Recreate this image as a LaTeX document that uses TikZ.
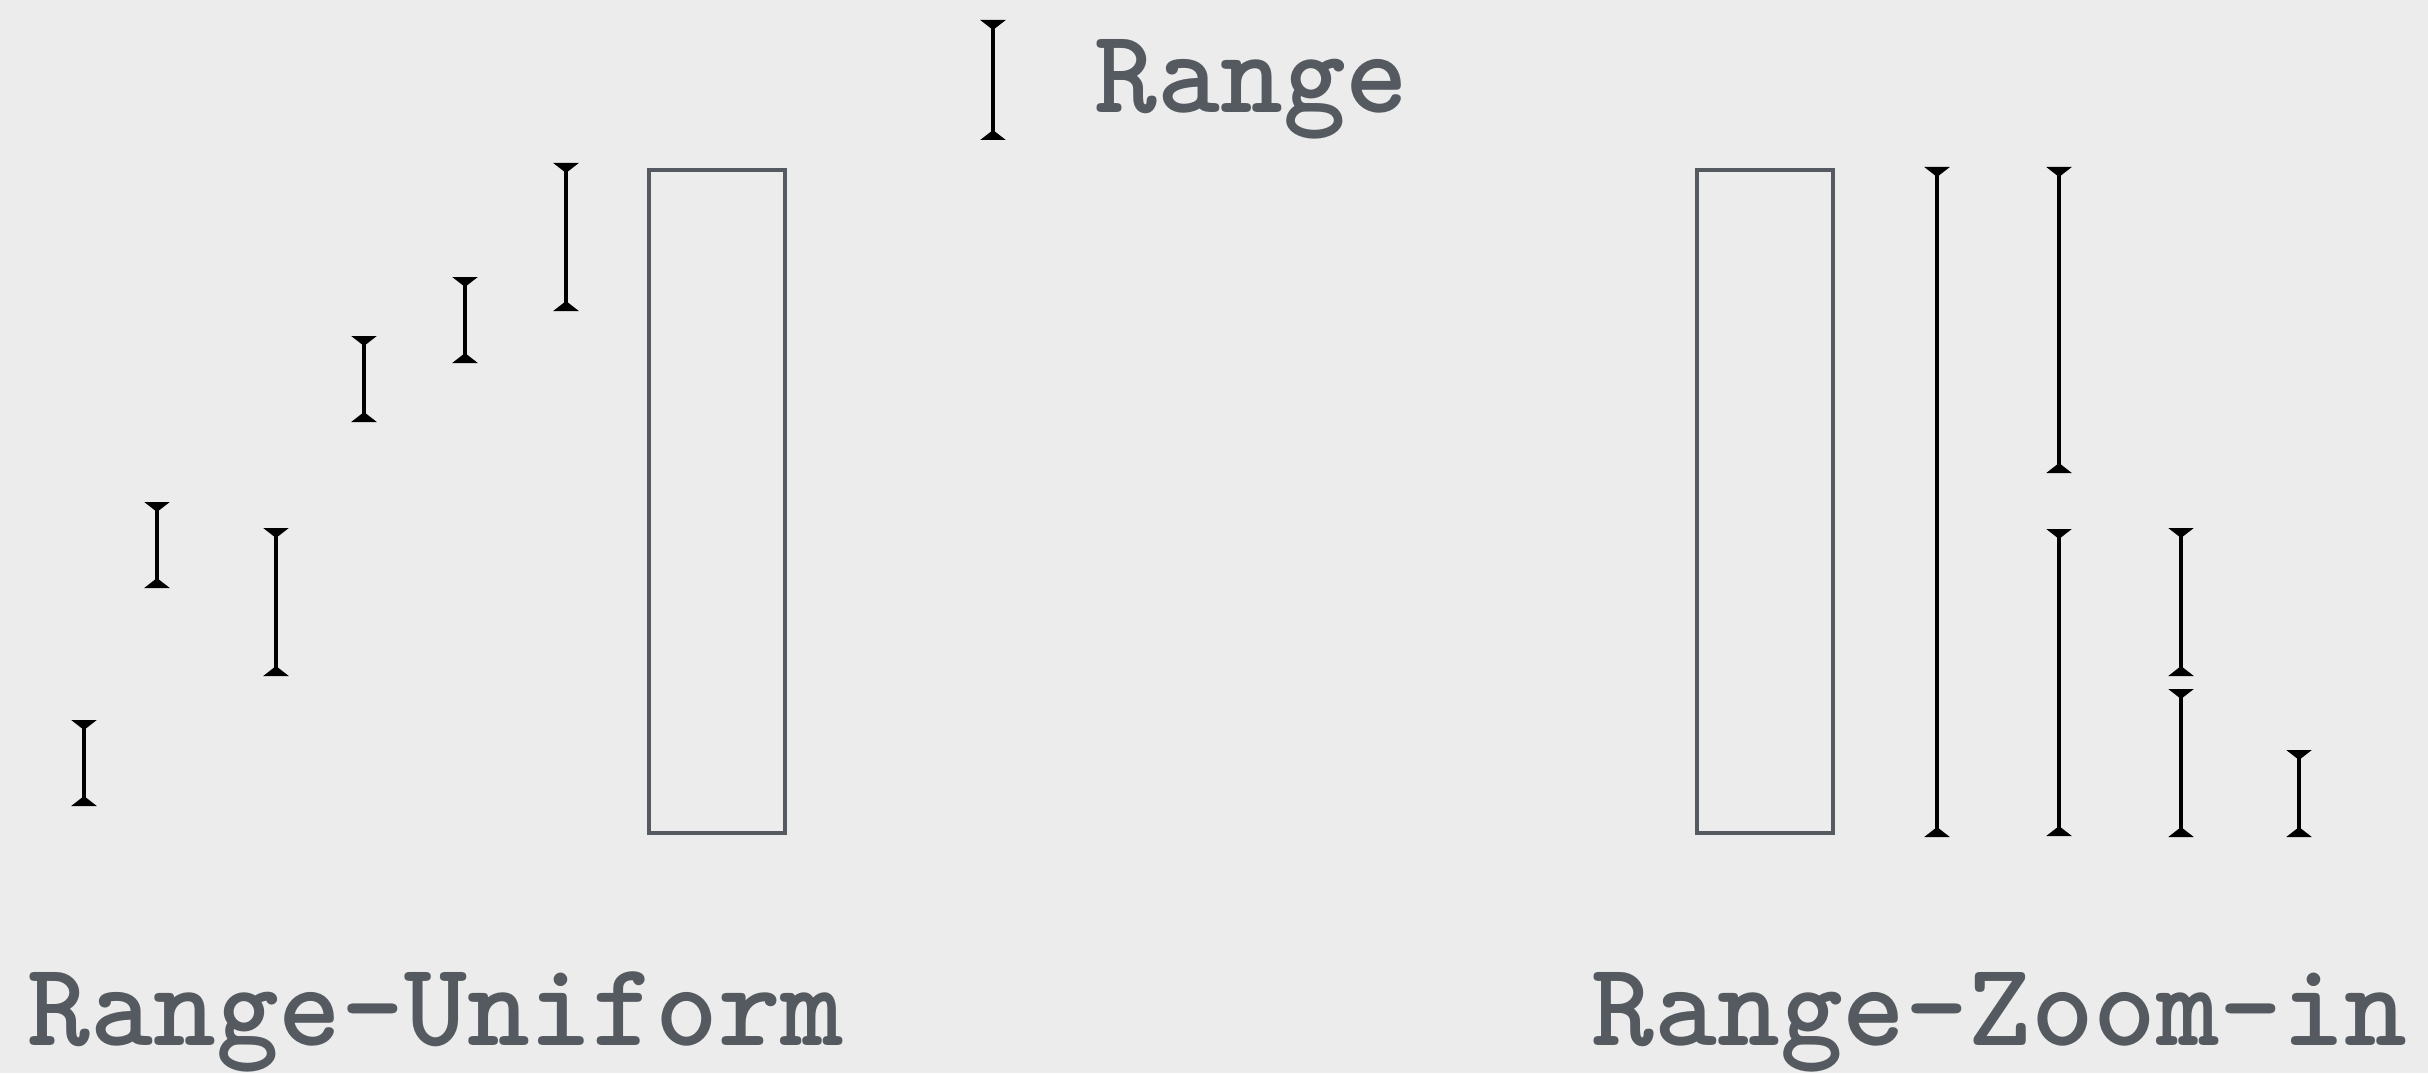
\documentclass[tikz,border=0pt]{standalone}
\usetikzlibrary{arrows.meta}
\definecolor{bgGray}{HTML}{ECECEC}
\definecolor{inkGray}{HTML}{555A60}
\tikzset{
  rangebar/.style={line width=1.15pt, black,
    {Triangle[reversed, width=0.25cm, length=0.1cm]}-{Triangle[reversed, width=0.25cm, length=0.1cm]}},
  databox/.style={draw=inkGray, line width=1.4pt},
  caption/.style={inner sep=0pt, anchor=base west, text=inkGray,
    font=\fontsize{34}{40}\selectfont\ttfamily\bfseries}
}
\begin{document}
\begin{tikzpicture}[x=0.01cm, y=-0.01cm]
% canvas in reference pixels
\useasboundingbox[fill=bgGray] (0,0) rectangle (2428,1073);
% Legend
\draw[rangebar] (993,20) -- (993,140);
\node[caption] (legend) at (1094,113) {Range};
% Range-Uniform: data box and scattered ranges
\draw[databox] (649,170) rectangle (785,833);
\draw[rangebar] (84,720) -- (84,806);
\draw[rangebar] (157,502) -- (157,588);
\draw[rangebar] (276,528) -- (276,676);
\draw[rangebar] (364,336) -- (364,422);
\draw[rangebar] (465,277) -- (465,363);
\draw[rangebar] (566,163) -- (566,311);
\node[caption] (uniform) at (27,1045) {Range-Uniform};
% Range-Zoom-in: data box and nested ranges
\draw[databox] (1697,170) rectangle (1833,833);
\draw[rangebar] (1937,167) -- (1937,837);
\draw[rangebar] (2059,167) -- (2059,473);
\draw[rangebar] (2059,529) -- (2059,836);
\draw[rangebar] (2181,528) -- (2181,676);
\draw[rangebar] (2181,689) -- (2181,837);
\draw[rangebar] (2299,750) -- (2299,837);
\node[caption] (zoomin) at (1591,1045) {Range-Zoom-in};
\end{tikzpicture}
\end{document}
